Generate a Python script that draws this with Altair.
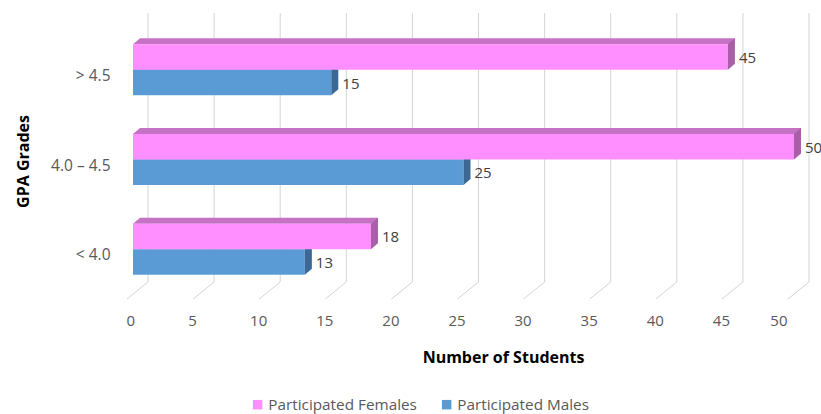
import altair as alt
import pandas as pd

grades = ["> 4.5", "4.0 – 4.5", "< 4.0"]
females = [45, 50, 18]
males = [15, 25, 13]
series = ["Participated Females", "Participated Males"]
tick_values = [0, 5, 10, 15, 20, 25, 30, 35, 40, 45, 50]

FONT = "Open Sans"
W, H = 661, 269
BAR = 25.5
TOP = 6
DEPTH = 7

front_col = {"Participated Females": "#ff8ffe", "Participated Males": "#5b9bd5"}
top_col = {"Participated Females": "#c572c4", "Participated Males": "#4a80b5"}
side_col = {"Participated Females": "#a95fa8", "Participated Males": "#3b6894"}

rows = []
for g, f, m in zip(grades, females, males):
    rows.append({"grade": g, "series": series[0], "value": f})
    rows.append({"grade": g, "series": series[1], "value": m})
df = pd.DataFrame(rows)
grid_df = pd.DataFrame({"value": tick_values})

xs = alt.Scale(domain=[0, 50], nice=False, zero=True)
ys = alt.Scale(domain=grades, paddingInner=0, paddingOuter=0)

x_axis = alt.Axis(
    values=tick_values, title="Number of Students", grid=False, ticks=False, domain=False,
    labelOffset=-7, labelPadding=19, labelFontSize=15, labelColor="#595959", labelFont=FONT,
    titleFont=FONT, titleFontSize=16, titleFontWeight="bold", titleColor="#000000",
    titleX=370, titleY=63, titleAlign="center", titleBaseline="middle")
y_axis = alt.Axis(
    title="GPA Grades", ticks=False, domain=False, grid=False, labelPadding=23, labelOffset=6,
    labelFontSize=15.5, labelColor="#595959", labelFont=FONT,
    titleFont=FONT, titleFontSize=16, titleFontWeight="bold", titleColor="#000000",
    titleAngle=270, titleX=-110, titleY=136, titleAlign="center", titleBaseline="middle")

X = alt.X("value:Q", scale=xs, axis=x_axis, title="Number of Students")
Y = alt.Y("grade:N", scale=ys, axis=y_axis, sort=grades, title="GPA Grades")

# back wall gridlines
wall = alt.Chart(grid_df).mark_rule(color="#d4d4d4", strokeWidth=1, xOffset=15, yOffset=-12, y2Offset=-12).encode(
    x=X, y=alt.value(0), y2=alt.value(H),
)
floor = alt.Chart(grid_df).mark_rule(color="#d4d4d4", strokeWidth=1, xOffset=-6, x2Offset=15, yOffset=5, y2Offset=-12).encode(
    x=X, x2="value:Q",
    y=alt.value(H), y2=alt.value(H),
)

side_path = "M0,-0.609 L0.4375,-0.984 L0.4375,0.609 L0,0.984 Z"
tri_path = "M-0.5,0.4286 L0.5,-0.4286 L0.5,0.4286 Z"

layers = [wall, floor]
for s, sign in [(series[1], 1), (series[0], -1)]:
    d = df[df["series"] == s]
    base = alt.Chart(d)
    center = sign * BAR / 2
    front_top = center - BAR / 2
    front = base.mark_bar(size=BAR, yOffset=center, cornerRadius=0).encode(
        x=X, x2=alt.X2(datum=0), y=Y,
        color=alt.Color("series:N", scale=alt.Scale(domain=series, range=[front_col[series[0]], front_col[series[1]]]),
                        legend=alt.Legend(title=None, orient="none", legendX=117, legendY=372, direction="horizontal",
                                          symbolType="square", symbolSize=90, symbolStrokeWidth=0,
                                          labelFontSize=15.3, labelFont=FONT, labelColor="#595959",
                                          columnPadding=22, symbolOffset=0, labelOffset=3, labelLimit=300)),
    )
    topface = base.mark_bar(size=TOP, yOffset=front_top - TOP / 2, xOffset=DEPTH, x2Offset=DEPTH,
                            color=top_col[s]).encode(x=X, x2=alt.X2(datum=0), y=Y)
    tri = base.mark_point(shape=tri_path, size=196, filled=True, opacity=1, strokeWidth=0,
                          xOffset=DEPTH / 2, yOffset=front_top - TOP / 2, color=top_col[s]).encode(
        x=alt.X(datum=0, scale=xs, axis=x_axis), y=Y)
    side = base.mark_point(shape=side_path, size=1024, filled=True, opacity=1, strokeWidth=0,
                           yOffset=front_top + 9.75, color=side_col[s]).encode(x=X, y=Y)
    label = base.mark_text(align="left", baseline="middle", dx=11, yOffset=center + 1,
                           fontSize=15, font=FONT, color="#404040").encode(x=X, y=Y, text="value:Q")
    layers += [topface, tri, front, side, label]

chart = alt.layer(*layers).properties(
    width=W, height=H,
    padding={"left": 133, "top": 25, "right": 27, "bottom": 120},
    autosize=alt.AutoSizeParams(type="none"),
).configure(background="#ffffff").configure_view(stroke=None)

chart.save("out.html", embed_options={"renderer": "svg", "actions": False})
